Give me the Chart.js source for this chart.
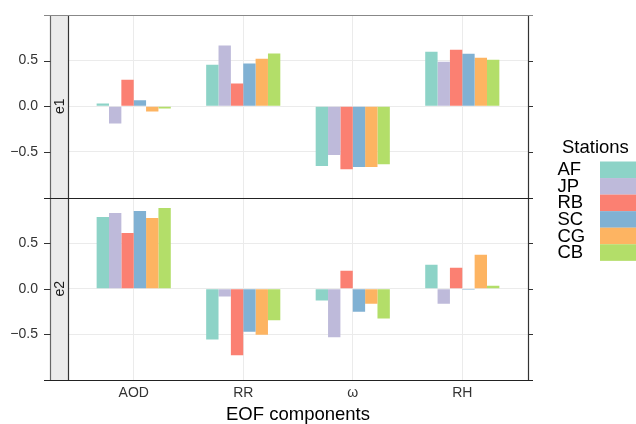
<!DOCTYPE html>
<html lang="en">
<head>
<meta charset="utf-8">
<title>EOF components</title>
<script src="https://cdn.jsdelivr.net/npm/chart.js"></script>
<style>
  html,body{margin:0;padding:0;background:#fff}
  #chart{display:block}
</style>
</head>
<body>
<canvas id="chart" width="636" height="424"></canvas>
<script>
const components = ['AOD','RR','\u03c9','RH'];
const stations   = ['AF','JP','RB','SC','CG','CB'];
const colors     = ['#8dd3c7','#bebada','#fb8072','#80b1d3','#fdb462','#b3de69'];
const yTicks     = [-0.5, 0, 0.5];

// e1 loadings per station, in the order AOD, RR, ω, RH
const e1AF = [ 0.030, 0.455,-0.655, 0.597];
const e1JP = [-0.190, 0.665,-0.535, 0.487];
const e1RB = [ 0.290, 0.248,-0.690, 0.618];
const e1SC = [ 0.065, 0.469,-0.665, 0.575];
const e1CG = [-0.058, 0.520,-0.665, 0.531];
const e1CB = [-0.025, 0.578,-0.636, 0.509];

// e2 loadings per station
const e2AF = [ 0.787,-0.557,-0.128, 0.262];
const e2JP = [ 0.830,-0.084,-0.532,-0.164];
const e2RB = [ 0.612,-0.729, 0.197, 0.230];
const e2SC = [ 0.852,-0.470,-0.251,-0.010];
const e2CG = [ 0.776,-0.503,-0.164, 0.372];
const e2CB = [ 0.885,-0.346,-0.325, 0.033];

const panels = [
  {name:'e1', axis:'y1', rows:[e1AF,e1JP,e1RB,e1SC,e1CG,e1CB]},
  {name:'e2', axis:'y2', rows:[e2AF,e2JP,e2RB,e2SC,e2CG,e2CB]}
];

const FONT = '"Liberation Sans", Arial, sans-serif';

const datasets = [];
panels.forEach(p=>{
  p.rows.forEach((vals,k)=>{
    datasets.push({
      label: stations[k],
      stack: stations[k],
      yAxisID: p.axis,
      xAxisID: 'x',
      data: vals.map((v,i)=>({x:i+1, y:v})),
      backgroundColor: colors[k],
      borderWidth: 0,
      categoryPercentage: 0.677,
      barPercentage: 1
    });
  });
});

const fmt = v => v===0 ? '0.0' : (v<0?'\u2212':'') + Math.abs(v).toFixed(1);

function yAxis(){
  return {
    type:'linear', position:'left', stack:'panels', stackWeight:1,
    stacked:false, min:-1, max:1,
    afterBuildTicks(s){ s.ticks = yTicks.map(v=>({value:v})); },
    afterFit(s){ s.width = 68; },
    // invisible long ticks push the labels left past the strip
    grid:{ color:'#ebebeb', lineWidth:1, drawTicks:true, tickLength:30, tickColor:'rgba(0,0,0,0)' },
    border:{ display:false },
    ticks:{ padding:0, color:'#333', font:{family:FONT, size:14}, callback:fmt }
  };
}

// panel frame, strips, outside tick marks and the legend
const decor = {
  id:'decor',
  afterDatasetsDraw(chart){
    const {ctx, chartArea:a} = chart;
    const y1 = chart.scales.y1, y2 = chart.scales.y2;
    const mid = Math.round(y1.bottom) + 0.5;
    const top = Math.round(a.top) + 0.5, bot = Math.round(a.bottom) + 0.5;
    const L = Math.round(a.left) + 0.5, R = Math.round(a.right) + 0.5;
    const sx = 50.5;
    ctx.save();
    // strips
    ctx.fillStyle = '#ebebeb';
    ctx.fillRect(sx, top, L - sx, bot - top);
    ctx.lineWidth = 1.2;
    ctx.strokeStyle = '#666';
    ctx.beginPath();
    ctx.moveTo(sx, top); ctx.lineTo(sx, bot);
    ctx.stroke();
    ctx.strokeStyle = '#333';
    ctx.beginPath();
    ctx.moveTo(L, top); ctx.lineTo(L, bot);
    ctx.moveTo(R, top); ctx.lineTo(R, bot);
    ctx.stroke();
    // horizontal borders
    ctx.lineWidth = 1;
    ctx.strokeStyle = '#888';
    ctx.beginPath(); ctx.moveTo(44, top); ctx.lineTo(533, top); ctx.stroke();
    ctx.strokeStyle = '#222';
    ctx.beginPath();
    ctx.moveTo(44, mid); ctx.lineTo(533, mid);
    ctx.moveTo(44, bot); ctx.lineTo(533, bot);
    ctx.stroke();
    // tick marks outside: left of strip and right of panel
    ctx.strokeStyle = '#333';
    ctx.beginPath();
    [y1,y2].forEach(s=>{
      yTicks.forEach(v=>{
        const py = Math.round(s.getPixelForValue(v)) + 0.5;
        ctx.moveTo(44, py); ctx.lineTo(sx, py);
        ctx.moveTo(R, py); ctx.lineTo(533, py);
      });
    });
    ctx.stroke();
    // strip labels
    ctx.fillStyle = '#1a1a1a';
    ctx.font = '14px ' + FONT;
    ctx.textAlign = 'center';
    ctx.textBaseline = 'middle';
    panels.forEach(p=>{
      const s = chart.scales[p.axis];
      ctx.save();
      ctx.translate((sx + L)/2 + 0.5, (s.top + s.bottom)/2);
      ctx.rotate(-Math.PI/2);
      ctx.fillText(p.name, 0, 0);
      ctx.restore();
    });
    // legend
    ctx.fillStyle = '#000';
    ctx.textAlign = 'left';
    ctx.font = '18.5px ' + FONT;
    ctx.fillText('Stations', 562, 148);
    stations.forEach((st,k)=>{
      const ky = 161.5 + k*16.55;
      ctx.fillStyle = colors[k];
      ctx.fillRect(600, ky, 40, 16.6);
      ctx.fillStyle = '#000';
      ctx.fillText(st, 557.5, ky + 8.8);
    });
    ctx.restore();
  }
};

new Chart(document.getElementById('chart'),{
  type:'bar',
  data:{ datasets },
  options:{
    responsive:false,
    animation:false,
    layout:{ padding:{ top:15, right:108, bottom:0, left:0 } },
    plugins:{ legend:{display:false}, tooltip:{enabled:false} },
    scales:{
      x:{
        type:'linear', position:'bottom', min:0.4, max:4.6, offset:false,
        afterBuildTicks(s){ s.ticks = components.map((c,i)=>({value:i+1})); },
        afterFit(s){ s.height = 44; },
        grid:{ color:'#ebebeb', lineWidth:1, drawTicks:false, offset:false },
        border:{ display:false },
        ticks:{ padding:5, color:'#333', autoSkip:false, maxRotation:0,
                font:{family:FONT, size:14},
                callback:v=>components[Math.round(v)-1] },
        title:{ display:true, text:'EOF components', color:'#000',
                font:{family:FONT, size:18.5, lineHeight:1}, padding:{top:0,bottom:0} }
      },
      y2: yAxis(),
      y1: yAxis()
    }
  },
  plugins:[decor]
});
</script>
</body>
</html>
